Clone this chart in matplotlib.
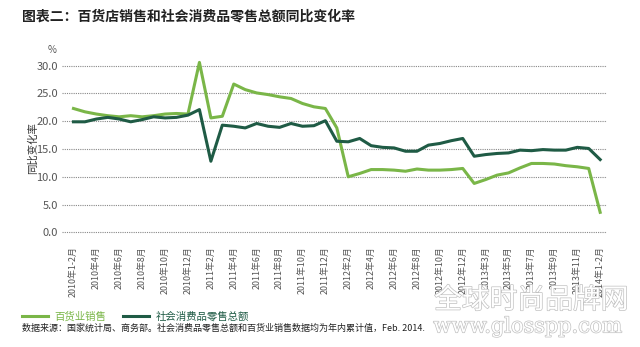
#!/usr/bin/env python

import numpy as np
import matplotlib
matplotlib.use("Agg")
import matplotlib.pyplot as plt
import matplotlib.patheffects as pe

plt.rcParams['font.family'] = ['Noto Sans CJK SC', 'DejaVu Sans']

# monthly points: 2010(1-2,3..12), 2011(1..12), 2012(1..12), 2013(1-2,3..12), 2014(1-2)
dept_store = [22.3, 21.7, 21.3, 21.0, 20.8, 21.0, 20.8, 21.0, 21.3, 21.4, 21.3,
              30.6, 20.6, 20.9, 26.7, 25.7, 25.1, 24.8, 24.4, 24.1, 23.2, 22.6, 22.3,
              18.8, 10.0, 10.6, 11.3, 11.3, 11.2, 11.0, 11.4, 11.2, 11.2, 11.3, 11.5,
              8.8, 9.5, 10.3, 10.7, 11.6, 12.4, 12.4, 12.3, 12.0, 11.8, 11.5,
              3.6]
retail_total = [19.9, 19.9, 20.4, 20.7, 20.4, 19.9, 20.3, 20.8, 20.6, 20.7, 21.1,
                22.1, 12.8, 19.3, 19.1, 18.8, 19.6, 19.1, 18.9, 19.6, 19.1, 19.2, 20.1,
                16.4, 16.3, 16.9, 15.6, 15.3, 15.2, 14.6, 14.6, 15.7, 16.0, 16.5, 16.9,
                13.7, 14.0, 14.2, 14.3, 14.8, 14.7, 14.9, 14.8, 14.8, 15.3, 15.1,
                13.1]
tick_labels = ['2010年1-2月', '2010年4月', '2010年6月', '2010年8月', '2010年10月', '2010年12月',
               '2011年2月', '2011年4月', '2011年6月', '2011年8月', '2011年10月', '2011年12月',
               '2012年2月', '2012年4月', '2012年6月', '2012年8月', '2012年10月', '2012年12月',
               '2013年3月', '2013年5月', '2013年7月', '2013年9月', '2013年11月', '2014年1-2月']
y_ticks = [0, 5, 10, 15, 20, 25, 30]

light = '#7ab648'
dark = '#1f5b45'
gray = '#555555'

fig = plt.figure(figsize=(6.4, 3.47), dpi=100)
ax = fig.add_axes([0.0969, 0.3225, 0.8516, 0.5121])

xx = np.arange(len(dept_store))
ax.plot(xx, dept_store, color=light, linewidth=2.2, clip_on=False, label='百货业销售')
ax.plot(xx, retail_total, color=dark, linewidth=2.2, clip_on=False, label='社会消费品零售总额')

ax.set_xlim(-1.0, 46.6)
ax.set_ylim(-0.5, 31.5)
ax.set_yticks(y_ticks)
ax.set_yticklabels(['%.1f' % v for v in y_ticks], fontsize=8, color=gray)
ax.set_xticks(xx[::2])
ax.set_xticklabels(tick_labels, rotation=90, fontsize=6.4, color=gray)
ax.tick_params(axis='both', length=0)
ax.tick_params(axis='x', pad=8)
ax.tick_params(axis='y', pad=3)
for s in ax.spines.values():
    s.set_visible(False)
for v in y_ticks:
    ax.axhline(v, color='#888888', linestyle=(0, (1, 1)), linewidth=0.8, zorder=0)

fig.text(0.034, 0.953, '图表二：百货店销售和社会消费品零售总额同比变化率',
         fontsize=10, fontweight='bold', color='#222222', va='center')
fig.text(0.082, 0.855, '%', fontsize=7, color=gray, ha='center', va='center')
fig.text(0.052, 0.574, '同比变化率', fontsize=7.5, color='#333333', rotation=90,
         ha='center', va='center')

leg = fig.legend(loc='center left', bbox_to_anchor=(0.02, 0.087), ncol=2, frameon=False,
                 fontsize=7.5, handlelength=2.5, columnspacing=1.6, handletextpad=0.6)
for t, c in zip(leg.get_texts(), [light, dark]):
    t.set_color(c)

fig.text(0.034, 0.055, '数据来源：国家统计局、商务部。社会消费品零售总额和百货业销售数据均为年内累计值，Feb. 2014.',
         fontsize=6.5, color='#222222', va='center')

# watermark
wm = [pe.withStroke(linewidth=1.0, foreground='#c0c0c0')]
fig.text(0.83, 0.135, '全球时尚品牌网', fontsize=20, color='white', ha='center', va='center',
         path_effects=wm, zorder=0)
fig.text(0.825, 0.058, 'www.glosspp.com', fontsize=15, color='white', ha='center', va='center',
         family='DejaVu Serif', path_effects=wm, zorder=0)

fig.savefig('out.png', dpi=100)
